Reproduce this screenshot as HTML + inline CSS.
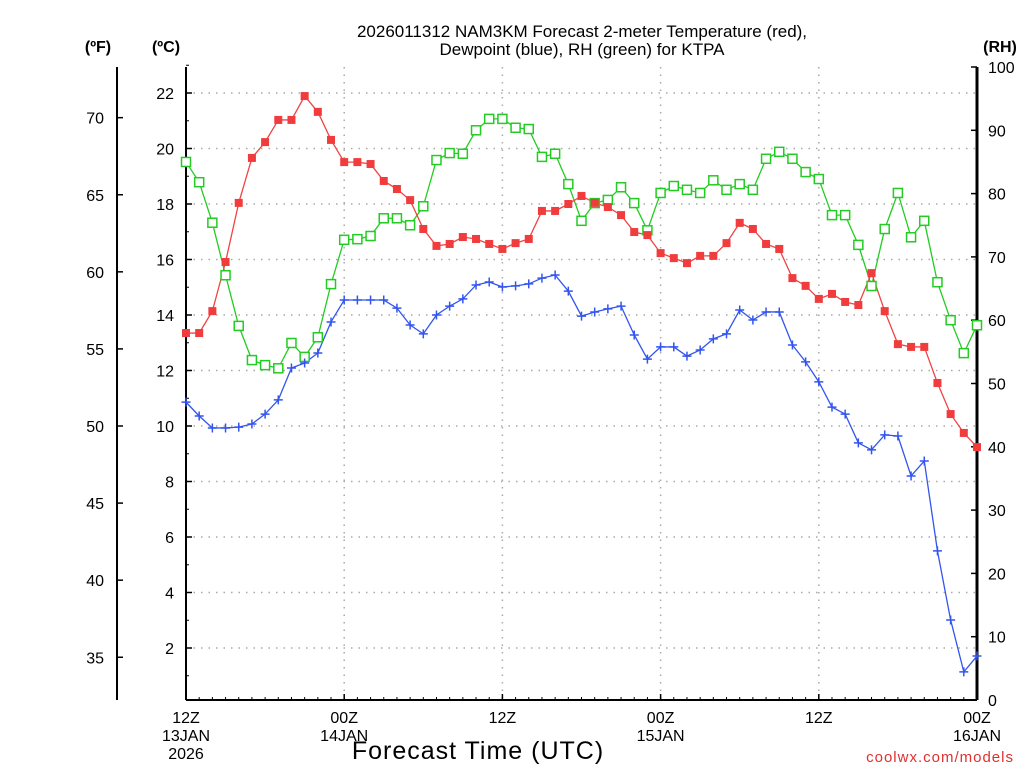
<!DOCTYPE html>
<html><head><meta charset="utf-8"><style>
body{margin:0;background:#fff;}
svg{display:block;font-family:"Liberation Sans",sans-serif;}
</style></head><body>
<svg id="chart" width="1024" height="768" viewBox="0 0 1024 768">
<rect width="1024" height="768" fill="#fff"/>
<g id="grid"></g>
<g id="axes"></g>
<g id="series"></g>
<text x="582" y="37" font-size="17" text-anchor="middle">2026011312 NAM3KM Forecast 2-meter Temperature (red),</text>
<text x="582" y="55" font-size="17" text-anchor="middle">Dewpoint (blue), RH (green) for KTPA</text>
<text x="98" y="52" font-size="16" font-weight="bold" text-anchor="middle">(ºF)</text>
<text x="166" y="52" font-size="16" font-weight="bold" text-anchor="middle">(ºC)</text>
<text x="1000" y="52" font-size="16" font-weight="bold" text-anchor="middle">(RH)</text>
<text x="478" y="759" font-size="25" text-anchor="middle" letter-spacing="1">Forecast Time (UTC)</text>
<text x="1014" y="762" font-size="15" fill="#e03030" text-anchor="end" letter-spacing="1">coolwx.com/models</text>
</svg>
<script>
const hours=[];for(let i=0;i<=60;i++)hours.push(i);
const tempC=[13.35,13.35,14.14,15.91,18.04,19.66,20.23,21.03,21.03,21.89,21.32,20.31,19.51,19.51,19.44,18.83,18.54,18.14,17.10,16.49,16.56,16.81,16.74,16.56,16.38,16.59,16.74,17.75,17.75,18.0,18.29,18.04,17.89,17.60,16.99,16.88,16.23,16.05,15.87,16.13,16.13,16.59,17.32,17.10,16.56,16.38,15.33,15.05,14.58,14.76,14.47,14.36,15.51,14.14,12.95,12.85,12.85,11.55,10.43,9.75,9.24];
const dewC=[10.86,10.36,9.93,9.93,9.96,10.07,10.43,10.94,12.09,12.27,12.63,13.75,14.54,14.54,14.54,14.54,14.25,13.64,13.32,14.0,14.32,14.58,15.08,15.19,15.01,15.05,15.12,15.33,15.44,14.86,13.96,14.11,14.22,14.32,13.28,12.41,12.85,12.85,12.52,12.74,13.14,13.32,14.18,13.82,14.11,14.11,12.92,12.31,11.59,10.68,10.43,9.39,9.14,9.68,9.64,8.20,8.74,5.50,3.01,1.14,1.71];
const rh=[85.0,81.8,75.4,67.1,59.1,53.7,52.9,52.4,56.4,54.2,57.3,65.7,72.7,72.8,73.3,76.1,76.1,75.0,78.0,85.3,86.4,86.3,90.0,91.8,91.8,90.4,90.2,85.8,86.3,81.5,75.7,78.5,79.0,81.0,78.5,74.2,80.1,81.2,80.6,80.1,82.1,80.6,81.5,80.6,85.5,86.6,85.5,83.4,82.3,76.6,76.6,71.9,65.4,74.4,80.1,73.1,75.7,66.0,60.0,54.8,59.2];
const cTicks=[2,4,6,8,10,12,14,16,18,20,22];
const fTicks=[35,40,45,50,55,60,65,70];
const rhTicks=[0,10,20,30,40,50,60,70,80,90,100];
const xTickHours=[0,12,24,36,48,60];
const xTickLabels=[["12Z","13JAN","2026"],["00Z","14JAN"],["12Z"],["00Z","15JAN"],["12Z"],["00Z","16JAN"]];
const X0=186,X1=977,Y0=67,Y1=700;
const xs=h=>X0+(h/60)*(X1-X0);
const yC=c=>648-(c-2)*27.75;
const yF=f=>yC((f-32)*5/9);
const yRH=r=>Y1-r*(Y1-Y0)/100;
const NS="http://www.w3.org/2000/svg";
function mk(tag,attrs,parent,txt){const e=document.createElementNS(NS,tag);for(const k in attrs)e.setAttribute(k,attrs[k]);if(txt!==undefined)e.textContent=txt;parent.appendChild(e);return e;}
const grid=document.getElementById('grid'),axes=document.getElementById('axes'),ser=document.getElementById('series');
cTicks.forEach(c=>{const l=mk('line',{x1:X0,x2:X1,y1:yC(c),y2:yC(c),stroke:'#aaa','stroke-width':1.5,'stroke-dasharray':'1.5 6'},grid);

});
[12,24,36,48].forEach(h=>{const l=mk('line',{x1:xs(h),x2:xs(h),y1:Y0,y2:Y1,stroke:'#aaa','stroke-width':1.5,'stroke-dasharray':'1.5 6'},grid);

});
mk('line',{x1:X0,x2:X0,y1:Y0,y2:Y1,stroke:'#000','stroke-width':2},axes);
mk('line',{x1:X1,x2:X1,y1:Y0,y2:Y1,stroke:'#000','stroke-width':3},axes);
mk('line',{x1:X0,x2:X1,y1:Y1,y2:Y1,stroke:'#000','stroke-width':2},axes);
mk('line',{x1:117,x2:117,y1:Y0,y2:Y1,stroke:'#000','stroke-width':2},axes);
cTicks.forEach(c=>{mk('line',{x1:X0,x2:X0+6,y1:yC(c),y2:yC(c),stroke:'#000','stroke-width':1.5},axes);
const t=mk('text',{x:174,y:yC(c)+6,'font-size':16,'text-anchor':'end'},axes,String(c));

});
for(let c=1;c<=23;c++){mk('line',{x1:X0,x2:X0+3,y1:yC(c),y2:yC(c),stroke:'#000','stroke-width':1},axes);}
fTicks.forEach(f=>{mk('line',{x1:117,x2:123,y1:yF(f),y2:yF(f),stroke:'#000','stroke-width':1.5},axes);
const t=mk('text',{x:104,y:yF(f)+6,'font-size':16,'text-anchor':'end'},axes,String(f));

});
rhTicks.forEach(r=>{mk('line',{x1:X1,x2:X1-6,y1:yRH(r),y2:yRH(r),stroke:'#000','stroke-width':1.5},axes);
const t=mk('text',{x:988,y:yRH(r)+6,'font-size':16},axes,String(r));

});
xTickHours.forEach((h,i)=>{mk('line',{x1:xs(h),x2:xs(h),y1:Y1,y2:Y1-6,stroke:'#000','stroke-width':1.5},axes);
xTickLabels[i].forEach((s,j)=>{const t=mk('text',{x:xs(h),y:723+j*18,'font-size':16,'text-anchor':'middle'},axes,s);

});});
for(let h=1;h<60;h++){mk('line',{x1:xs(h),x2:xs(h),y1:Y1,y2:Y1-3,stroke:'#000','stroke-width':1},axes);}
function line(vals,yf,color,name){const p=mk('polyline',{points:vals.map((v,i)=>xs(hours[i])+','+yf(v)).join(' '),fill:'none',stroke:color,'stroke-width':1.3},ser);

}
line(rh,yRH,'#22cc22','rh-line');
line(tempC,yC,'#ee4444','temperature-line');
line(dewC,yC,'#3355ee','dewpoint-line');
rh.forEach((v,i)=>{const r=mk('rect',{x:xs(hours[i])-4.5,y:yRH(v)-4.5,width:9,height:9,fill:'#fff',stroke:'#22cc22','stroke-width':1.5},ser);

});
tempC.forEach((v,i)=>{const r=mk('rect',{x:xs(hours[i])-4,y:yC(v)-4,width:8,height:8,fill:'#f03c3c'},ser);

});
dewC.forEach((v,i)=>{const x=xs(hours[i]),y=yC(v);const p=mk('path',{d:`M${x-4.5} ${y}H${x+4.5}M${x} ${y-4.5}V${y+4.5}`,stroke:'#3355ee','stroke-width':1.5},ser);

});
</script>
</body></html>
